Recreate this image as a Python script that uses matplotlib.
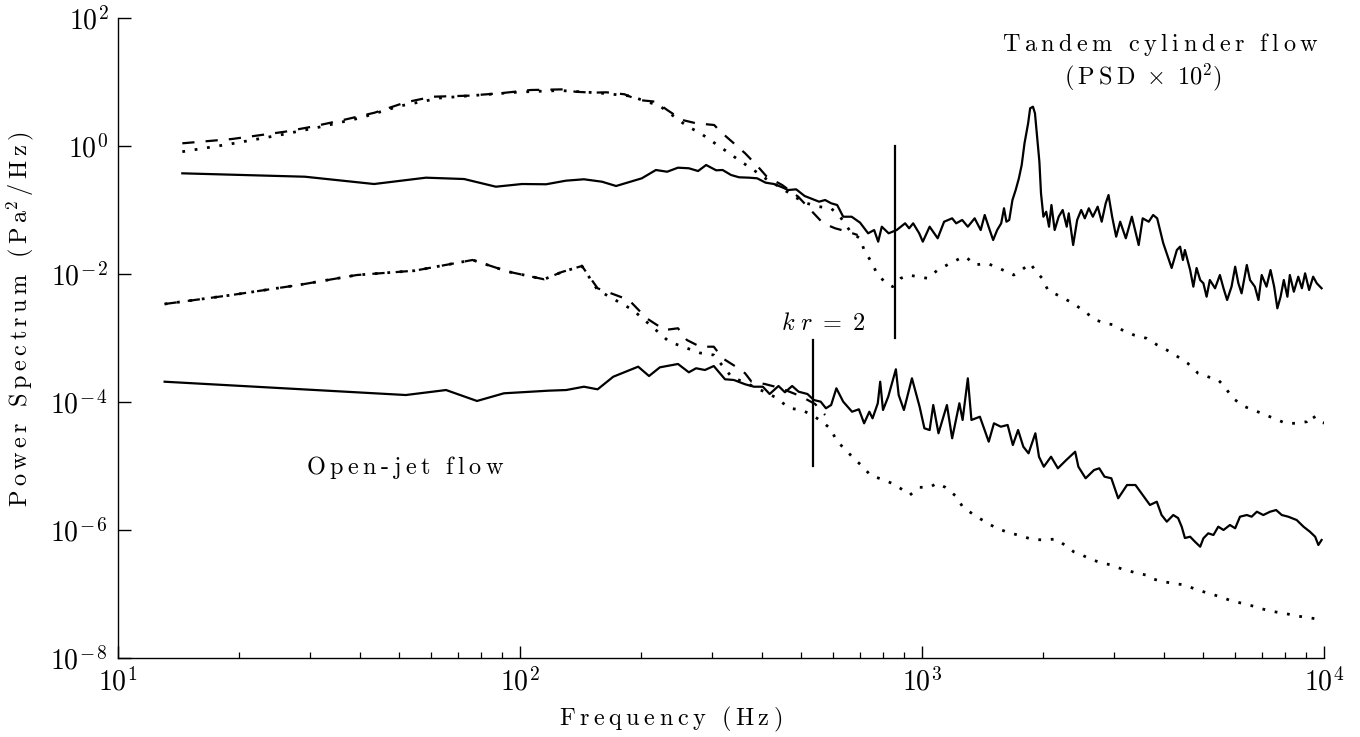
import matplotlib
matplotlib.use("Agg")
import matplotlib.pyplot as plt
import numpy as np
from matplotlib.ticker import FuncFormatter, LogLocator, NullLocator

plt.rcParams["mathtext.fontset"] = "cm"
plt.rcParams["font.family"] = "serif"

# ---- data (log10 of frequency in Hz, log10 of PSD in Pa^2/Hz) ----
# Tandem cylinder flow (PSD x 10^2)
tandem_solid_logf = [1.160, 1.465, 1.637, 1.766, 1.861, 1.940, 2.005, 2.065, 2.114, 2.159,
                     2.204, 2.239, 2.303, 2.338, 2.366, 2.393, 2.420, 2.443, 2.463, 2.488,
                     2.504, 2.525, 2.545, 2.570, 2.590, 2.611, 2.632, 2.652, 2.667, 2.687,
                     2.708, 2.729, 2.744, 2.759, 2.774, 2.789, 2.804, 2.825, 2.846, 2.866,
                     2.881, 2.891, 2.900, 2.917, 2.937, 2.958, 2.968, 2.978, 2.993, 3.002,
                     3.019, 3.039, 3.055, 3.075, 3.085, 3.100, 3.114, 3.131, 3.146, 3.156,
                     3.167, 3.177, 3.187, 3.197, 3.204, 3.210, 3.217, 3.225, 3.233, 3.241,
                     3.248, 3.255, 3.264, 3.269, 3.276, 3.281, 3.287, 3.292, 3.296, 3.302,
                     3.309, 3.316, 3.322, 3.330, 3.340, 3.350, 3.360, 3.365, 3.376, 3.386,
                     3.396, 3.405, 3.415, 3.425, 3.437, 3.447, 3.457, 3.464, 3.473, 3.483,
                     3.493, 3.507, 3.522, 3.539, 3.549, 3.564, 3.575, 3.585, 3.600, 3.621,
                     3.634, 3.642, 3.649, 3.654, 3.667, 3.675, 3.683, 3.692, 3.700, 3.708,
                     3.716, 3.729, 3.741, 3.750, 3.759, 3.770, 3.779, 3.787, 3.795, 3.808,
                     3.816, 3.828, 3.837, 3.845, 3.857, 3.867, 3.876, 3.884, 3.892, 3.900,
                     3.909, 3.915, 3.925, 3.936, 3.945, 3.953, 3.963, 3.973, 3.982, 3.994]
tandem_solid_logp = [-0.427, -0.480, -0.594, -0.495, -0.516, -0.636, -0.594, -0.598, -0.542, -0.520,
                     -0.558, -0.625, -0.505, -0.375, -0.402, -0.339, -0.348, -0.391, -0.297, -0.380,
                     -0.375, -0.453, -0.489, -0.495, -0.505, -0.573, -0.594, -0.645, -0.688, -0.677,
                     -0.781, -0.833, -0.870, -0.844, -0.895, -0.922, -1.105, -1.105, -1.198, -1.364,
                     -1.313, -1.495, -1.261, -1.364, -1.313, -1.208, -1.286, -1.208, -1.364, -1.495,
                     -1.261, -1.442, -1.183, -1.130, -1.208, -1.156, -1.261, -1.130, -1.313, -1.078,
                     -1.286, -1.469, -1.313, -1.208, -0.973, -1.183, -1.156, -0.844, -0.688, -0.505,
                     -0.297, 0.042, 0.355, 0.589, 0.614, 0.511, 0.094, -0.245, -0.739, -1.105,
                     -1.027, -1.261, -0.922, -1.313, -1.105, -1.000, -1.261, -1.052, -1.547, -1.156,
                     -1.000, -1.130, -0.973, -1.105, -0.948, -1.183, -0.895, -0.766, -1.105, -1.417,
                     -1.183, -1.442, -1.105, -1.547, -1.130, -1.183, -1.078, -1.130, -1.516, -1.906,
                     -1.625, -1.573, -1.781, -1.625, -1.938, -2.198, -1.906, -2.094, -2.145, -2.355,
                     -2.094, -2.223, -2.016, -2.223, -2.406, -2.198, -1.886, -2.145, -2.302, -1.859,
                     -2.094, -2.198, -2.406, -2.016, -2.198, -1.938, -2.198, -2.536, -2.355, -2.094,
                     -2.355, -2.016, -2.277, -2.042, -2.223, -1.989, -2.250, -2.042, -2.145, -2.223]

tandem_dash_logf = [1.160, 1.283, 1.338, 1.415, 1.483, 1.560, 1.638, 1.716, 1.782, 1.871,
                    1.949, 2.027, 2.115, 2.137, 2.182, 2.215, 2.260, 2.294, 2.338, 2.366,
                    2.404, 2.438, 2.483, 2.499, 2.532, 2.560, 2.592, 2.614, 2.652, 2.692,
                    2.723, 2.754, 2.784, 2.815, 2.840]
tandem_dash_logp = [0.042, 0.109, 0.156, 0.223, 0.302, 0.406, 0.520, 0.683, 0.770, 0.786,
                    0.823, 0.875, 0.886, 0.848, 0.833, 0.839, 0.808, 0.719, 0.692, 0.563,
                    0.406, 0.355, 0.328, 0.223, 0.042, -0.114, -0.323, -0.480, -0.609, -0.792,
                    -1.000, -1.208, -1.286, -1.339, -1.391]

tandem_dot_logf = [1.160, 1.279, 1.403, 1.502, 1.602, 1.701, 1.801, 1.900, 2.000, 2.100,
                   2.199, 2.274, 2.348, 2.415, 2.448, 2.509, 2.550, 2.575, 2.616, 2.652,
                   2.682, 2.713, 2.744, 2.774, 2.799, 2.825, 2.846, 2.856, 2.871, 2.886,
                   2.906, 2.927, 2.947, 2.968, 2.988, 3.014, 3.039, 3.070, 3.095, 3.109,
                   3.131, 3.162, 3.192, 3.228, 3.248, 3.269, 3.284, 3.299, 3.313, 3.345,
                   3.376, 3.405, 3.432, 3.457, 3.478, 3.498, 3.527, 3.559, 3.585, 3.609,
                   3.636, 3.661, 3.687, 3.711, 3.737, 3.753, 3.773, 3.803, 3.845, 3.875,
                   3.905, 3.935, 3.957, 3.972, 3.983, 4.000]
tandem_dot_logp = [-0.089, 0.031, 0.172, 0.297, 0.438, 0.625, 0.750, 0.797, 0.844, 0.867,
                   0.828, 0.781, 0.625, 0.313, 0.203, -0.063, -0.245, -0.348, -0.531, -0.661,
                   -0.792, -0.895, -0.948, -0.973, -1.130, -1.364, -1.442, -1.625, -1.781, -1.964,
                   -2.120, -2.198, -2.067, -2.016, -2.042, -2.067, -1.938, -1.833, -1.755, -1.730,
                   -1.859, -1.833, -1.911, -2.016, -1.938, -1.833, -1.964, -2.067, -2.250, -2.355,
                   -2.458, -2.589, -2.719, -2.770, -2.797, -2.875, -2.953, -3.005, -3.109, -3.188,
                   -3.292, -3.395, -3.552, -3.605, -3.656, -3.761, -3.942, -4.073, -4.177, -4.255,
                   -4.333, -4.333, -4.308, -4.203, -4.308, -4.328]

# Open-jet flow
jet_solid_logf = [1.116, 1.716, 1.816, 1.893, 1.960, 2.071, 2.115, 2.159, 2.193, 2.232,
                  2.294, 2.321, 2.348, 2.393, 2.420, 2.438, 2.460, 2.482, 2.510, 2.532,
                  2.560, 2.582, 2.604, 2.621, 2.643, 2.659, 2.677, 2.693, 2.715, 2.731,
                  2.748, 2.761, 2.774, 2.787, 2.804, 2.826, 2.843, 2.856, 2.869, 2.877,
                  2.890, 2.896, 2.903, 2.916, 2.935, 2.942, 2.955, 2.975, 2.994, 3.006,
                  3.019, 3.028, 3.041, 3.062, 3.075, 3.093, 3.101, 3.114, 3.123, 3.144,
                  3.166, 3.179, 3.196, 3.213, 3.226, 3.239, 3.252, 3.265, 3.282, 3.291,
                  3.303, 3.321, 3.338, 3.359, 3.381, 3.389, 3.407, 3.428, 3.441, 3.454,
                  3.471, 3.488, 3.510, 3.531, 3.549, 3.567, 3.584, 3.596, 3.609, 3.625,
                  3.637, 3.646, 3.654, 3.667, 3.679, 3.692, 3.700, 3.712, 3.725, 3.737,
                  3.750, 3.766, 3.779, 3.791, 3.808, 3.820, 3.833, 3.849, 3.866, 3.881,
                  3.895, 3.911, 3.932, 3.949, 3.965, 3.978, 3.986, 3.994]
jet_solid_logp = [-3.683, -3.891, -3.813, -3.984, -3.864, -3.823, -3.813, -3.761, -3.802, -3.605,
                  -3.448, -3.594, -3.458, -3.406, -3.536, -3.473, -3.500, -3.438, -3.645, -3.656,
                  -3.723, -3.761, -3.761, -3.875, -3.750, -3.848, -3.750, -3.839, -3.875, -3.969,
                  -3.995, -4.098, -4.047, -3.786, -3.995, -4.152, -4.114, -4.333, -4.152, -4.255,
                  -4.020, -3.683, -4.125, -3.917, -3.489, -3.891, -4.125, -3.630, -4.073, -4.411,
                  -4.438, -4.047, -4.489, -4.047, -4.567, -4.020, -4.281, -3.630, -4.281, -4.230,
                  -4.620, -4.333, -4.386, -4.359, -4.672, -4.438, -4.698, -4.802, -4.489, -4.855,
                  -5.011, -4.855, -5.036, -4.906, -4.777, -5.011, -5.192, -5.063, -5.036, -5.167,
                  -5.192, -5.505, -5.297, -5.297, -5.453, -5.609, -5.558, -5.766, -5.870, -5.766,
                  -5.813, -5.948, -6.125, -6.105, -6.183, -6.261, -6.130, -6.052, -6.078, -5.948,
                  -6.000, -5.922, -5.973, -5.792, -5.766, -5.792, -5.714, -5.766, -5.714, -5.688,
                  -5.766, -5.792, -5.844, -5.948, -6.027, -6.105, -6.234, -6.156]

jet_dash_logf = [1.116, 1.283, 1.449, 1.594, 1.738, 1.882, 1.971, 2.060, 2.104, 2.154,
                 2.193, 2.271, 2.315, 2.360, 2.393, 2.415, 2.448, 2.482, 2.504, 2.537,
                 2.560, 2.576, 2.609, 2.647, 2.697, 2.734, 2.759]
jet_dash_logp = [-2.469, -2.328, -2.172, -2.016, -1.948, -1.781, -1.964, -2.083, -1.969, -1.875,
                 -2.223, -2.406, -2.692, -2.875, -2.848, -3.031, -3.136, -3.136, -3.317, -3.448,
                 -3.552, -3.683, -3.719, -3.781, -3.906, -4.031, -4.203]

jet_dot_logf = [1.116, 1.283, 1.449, 1.594, 1.738, 1.882, 1.971, 2.060, 2.104, 2.154,
                2.193, 2.281, 2.338, 2.371, 2.448, 2.482, 2.526, 2.582, 2.634, 2.671,
                2.701, 2.726, 2.752, 2.774, 2.787, 2.808, 2.830, 2.851, 2.873, 2.899,
                2.925, 2.946, 2.970, 2.994, 3.019, 3.037, 3.058, 3.084, 3.101, 3.118,
                3.136, 3.157, 3.183, 3.213, 3.248, 3.273, 3.303, 3.333, 3.355, 3.377,
                3.398, 3.420, 3.445, 3.471, 3.497, 3.531, 3.557, 3.575, 3.600, 3.626,
                3.652, 3.682, 3.712, 3.742, 3.764, 3.790, 3.820, 3.850, 3.876, 3.902,
                3.932, 3.957, 3.986]
jet_dot_logp = [-2.469, -2.328, -2.172, -2.016, -1.948, -1.781, -1.964, -2.083, -1.969, -1.875,
                -2.250, -2.563, -2.875, -3.058, -3.234, -3.266, -3.605, -3.761, -3.922, -4.098,
                -4.125, -4.203, -4.308, -4.427, -4.605, -4.734, -4.880, -5.000, -5.152, -5.203,
                -5.270, -5.348, -5.453, -5.333, -5.333, -5.270, -5.333, -5.469, -5.636, -5.714,
                -5.792, -5.870, -5.964, -6.036, -6.094, -6.145, -6.156, -6.141, -6.234, -6.339,
                -6.391, -6.458, -6.511, -6.547, -6.609, -6.667, -6.703, -6.766, -6.808, -6.833,
                -6.859, -6.927, -6.989, -7.042, -7.094, -7.136, -7.183, -7.239, -7.277, -7.302,
                -7.344, -7.364, -7.395]

# kr = 2 markers: (frequency Hz, log10 PSD bottom, log10 PSD top)
kr2_tandem = (857, -3.0, 0.0)
kr2_jet = (536, -5.0, -3.03)

SP = r"\hspace{0.21}"


def spaced(text):
    # letter-spaced roman text for mathtext
    return (SP + r"\ " + SP).join(SP.join(w) for w in text.split(" "))


def log_label(val, pos):
    e = int(round(np.log10(val)))
    ex = (r"-\," + str(-e)) if e < 0 else str(e)
    return r"$\mathrm{10}^{" + ex + "}$"


fig = plt.figure(figsize=(13.6, 7.37), dpi=100)
ax = fig.add_axes([118 / 1360, 79 / 737, 1206 / 1360, 640 / 737])

lw = 1.6
ax.plot(10 ** np.array(tandem_solid_logf), 10 ** np.array(tandem_solid_logp), color="black", lw=lw)
ax.plot(10 ** np.array(tandem_dash_logf), 10 ** np.array(tandem_dash_logp), color="black", lw=lw,
        dashes=(5.5, 5.0))
ax.plot(10 ** np.array(tandem_dot_logf), 10 ** np.array(tandem_dot_logp), color="black", lw=2.0,
        dashes=(1.0, 3.5))
ax.plot(10 ** np.array(jet_solid_logf), 10 ** np.array(jet_solid_logp), color="black", lw=lw)
ax.plot(10 ** np.array(jet_dash_logf), 10 ** np.array(jet_dash_logp), color="black", lw=lw,
        dashes=(5.5, 5.0))
ax.plot(10 ** np.array(jet_dot_logf), 10 ** np.array(jet_dot_logp), color="black", lw=2.0,
        dashes=(1.0, 3.5))

for f, lo, hi in (kr2_tandem, kr2_jet):
    ax.plot([f, f], [10 ** lo, 10 ** hi], color="black", lw=1.6)

ax.set_xscale("log")
ax.set_yscale("log")
ax.set_xlim(10, 1e4)
ax.set_ylim(1e-8, 1e2)

ax.set_yticks([1e-8, 1e-6, 1e-4, 1e-2, 1e0, 1e2])
ax.yaxis.set_minor_locator(NullLocator())
ax.xaxis.set_major_locator(LogLocator(base=10))
ax.xaxis.set_minor_locator(LogLocator(base=10, subs=np.arange(2, 10)))
ax.xaxis.set_major_formatter(FuncFormatter(log_label))
ax.yaxis.set_major_formatter(FuncFormatter(log_label))
ax.tick_params(which="major", direction="in", length=9, width=1.0, labelsize=20, pad=7)
ax.tick_params(which="minor", direction="in", length=4.3, width=0.9)

for side in ("top", "right"):
    ax.spines[side].set_visible(False)
for side in ("left", "bottom"):
    ax.spines[side].set_linewidth(1.0)

fs = 17.5
ax.set_xlabel(r"$\mathrm{" + spaced("Frequency (Hz)") + "}$", fontsize=fs)
ax.xaxis.set_label_coords(0.4585, -0.074)
ylab = (spaced("Power Spectrum") + SP + r"\ " + SP + "(" + SP + "P" + SP + "a^{2}" + SP + "/"
        + SP + "H" + SP + "z" + SP + ")")
ax.set_ylabel(r"$\mathrm{" + ylab + "}$", fontsize=fs)
ax.yaxis.set_label_coords(-0.068, 0.53)

ax.text(3908, 37.9, r"$\mathrm{" + spaced("Tandem cylinder flow") + "}$", fontsize=fs,
        ha="center", va="center")
ax.text(3548, 12.0, r"$\mathrm{(" + SP + "P" + SP + "S" + SP + r"D\ \times\ 10^{2})}$",
        fontsize=fs, ha="center", va="center")
ax.text(52, 9.6e-6, r"$\mathrm{" + spaced("Open") + SP + r"\text{-}" + SP + spaced("jet flow") + "}$",
        fontsize=fs, ha="center", va="center")
ax.text(568, 1.71e-3, r"$k\hspace{0.3}r\ =\ 2$", fontsize=fs, ha="center", va="center")

fig.savefig("out.png", dpi=100)
